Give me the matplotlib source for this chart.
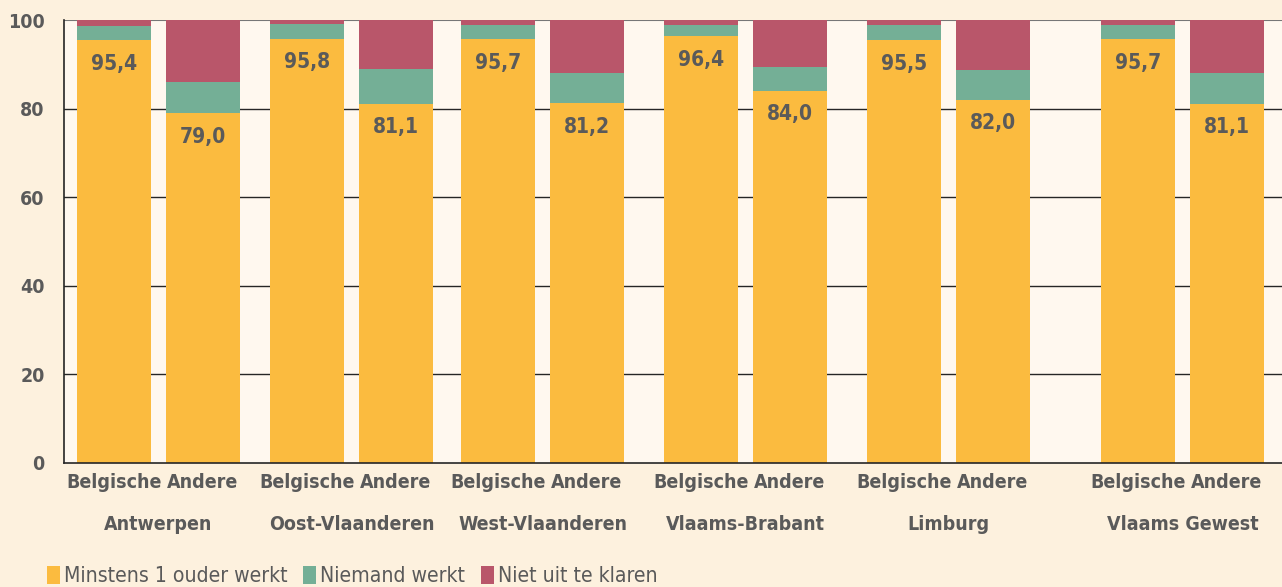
import matplotlib
matplotlib.use("Agg")
import matplotlib.pyplot as plt
from matplotlib.patches import Patch

# ---- data ----
regions = ["Antwerpen", "Oost-Vlaanderen", "West-Vlaanderen", "Vlaams-Brabant", "Limburg", "Vlaams Gewest"]
origins = ["Belgische", "Andere"]
series = ["Minstens 1 ouder werkt", "Niemand werkt", "Niet uit te klaren"]
minstens = [95.4, 79.0, 95.8, 81.1, 95.7, 81.2, 96.4, 84.0, 95.5, 82.0, 95.7, 81.1]
niemand  = [3.2, 7.0, 3.3, 7.8, 3.2, 6.8, 2.5, 5.4, 3.4, 6.7, 3.2, 6.9]
niet     = [1.4, 14.0, 0.9, 11.1, 1.1, 12.0, 1.1, 10.6, 1.1, 11.3, 1.1, 12.0]
yticks = [0, 20, 40, 60, 80, 100]

# ---- layout ----
W, H = 1282, 587
group_centers = [158.5, 351.5, 542.5, 745.5, 948.5, 1182.5]
pair_offset = 44.5
bar_w = 74
colors = ["#FBBB3F", "#74AF96", "#B9566A"]
txt = "#5A5A5A"
fig_bg = "#FDF1DE"
ax_bg = "#FFF8EF"
plt.rcParams["font.family"] = ["DejaVu Sans"]
plt.rcParams["font.stretch"] = "condensed"

fig = plt.figure(figsize=(W / 100, H / 100), dpi=100, facecolor=fig_bg)
ax = fig.add_axes([64 / W, 1 - 463 / H, 1 - 64 / W, (463 - 20) / H])
ax.set_facecolor(ax_bg)
ax.set_xlim(64, W)
ax.set_ylim(0, 100)

xs = []
for gc in group_centers:
    xs += [gc - pair_offset, gc + pair_offset]

bottom = [0] * len(xs)
for vals, c in zip([minstens, niemand, niet], colors):
    ax.bar(xs, vals, width=bar_w, bottom=bottom, color=c, zorder=2, linewidth=0)
    bottom = [b + v for b, v in zip(bottom, vals)]

for x, v in zip(xs, minstens):
    ax.annotate(f"{v:.1f}".replace(".", ","), (x, v), xytext=(0, -17), textcoords="offset points",
                ha="center", va="center", fontsize=15, fontweight="bold", color=txt, zorder=3)

for y in yticks[1:-1]:
    ax.axhline(y, color="#262626", lw=1.0, zorder=1)
ax.axhline(100, color="#777777", lw=1.5, zorder=1)

for s in ["top", "right"]:
    ax.spines[s].set_visible(False)
ax.spines["left"].set_color("#262626")
ax.spines["bottom"].set_color("#262626")
ax.spines["left"].set_linewidth(1.2)
ax.spines["bottom"].set_linewidth(1.2)
ax.spines["bottom"].set_zorder(4)

ax.set_yticks(yticks)
ax.set_yticklabels([str(t) for t in yticks], fontsize=14, fontweight="bold", color=txt)
ax.tick_params(axis="y", length=0, pad=14)

ax.set_xticks(xs)
ax.set_xticklabels(origins * len(regions), fontsize=14, fontweight="bold", color=txt)
ax.tick_params(axis="x", length=0, pad=7)

for gc, r in zip(group_centers, regions):
    fig.text(gc / W, 1 - 524 / H, r, ha="center", va="center", fontsize=14, fontweight="bold", color=txt)

handles = [Patch(facecolor=c, edgecolor="none") for c in colors]
fig.legend(handles, series, loc="center left", bbox_to_anchor=(47 / W, 1 - 576 / H), ncol=3,
           frameon=False, fontsize=15.2, handlelength=0.6, handleheight=0.95, handletextpad=0.2,
           columnspacing=0.75, labelcolor=txt, borderaxespad=0, borderpad=0)

fig.savefig("out.png", dpi=100, facecolor=fig_bg)
